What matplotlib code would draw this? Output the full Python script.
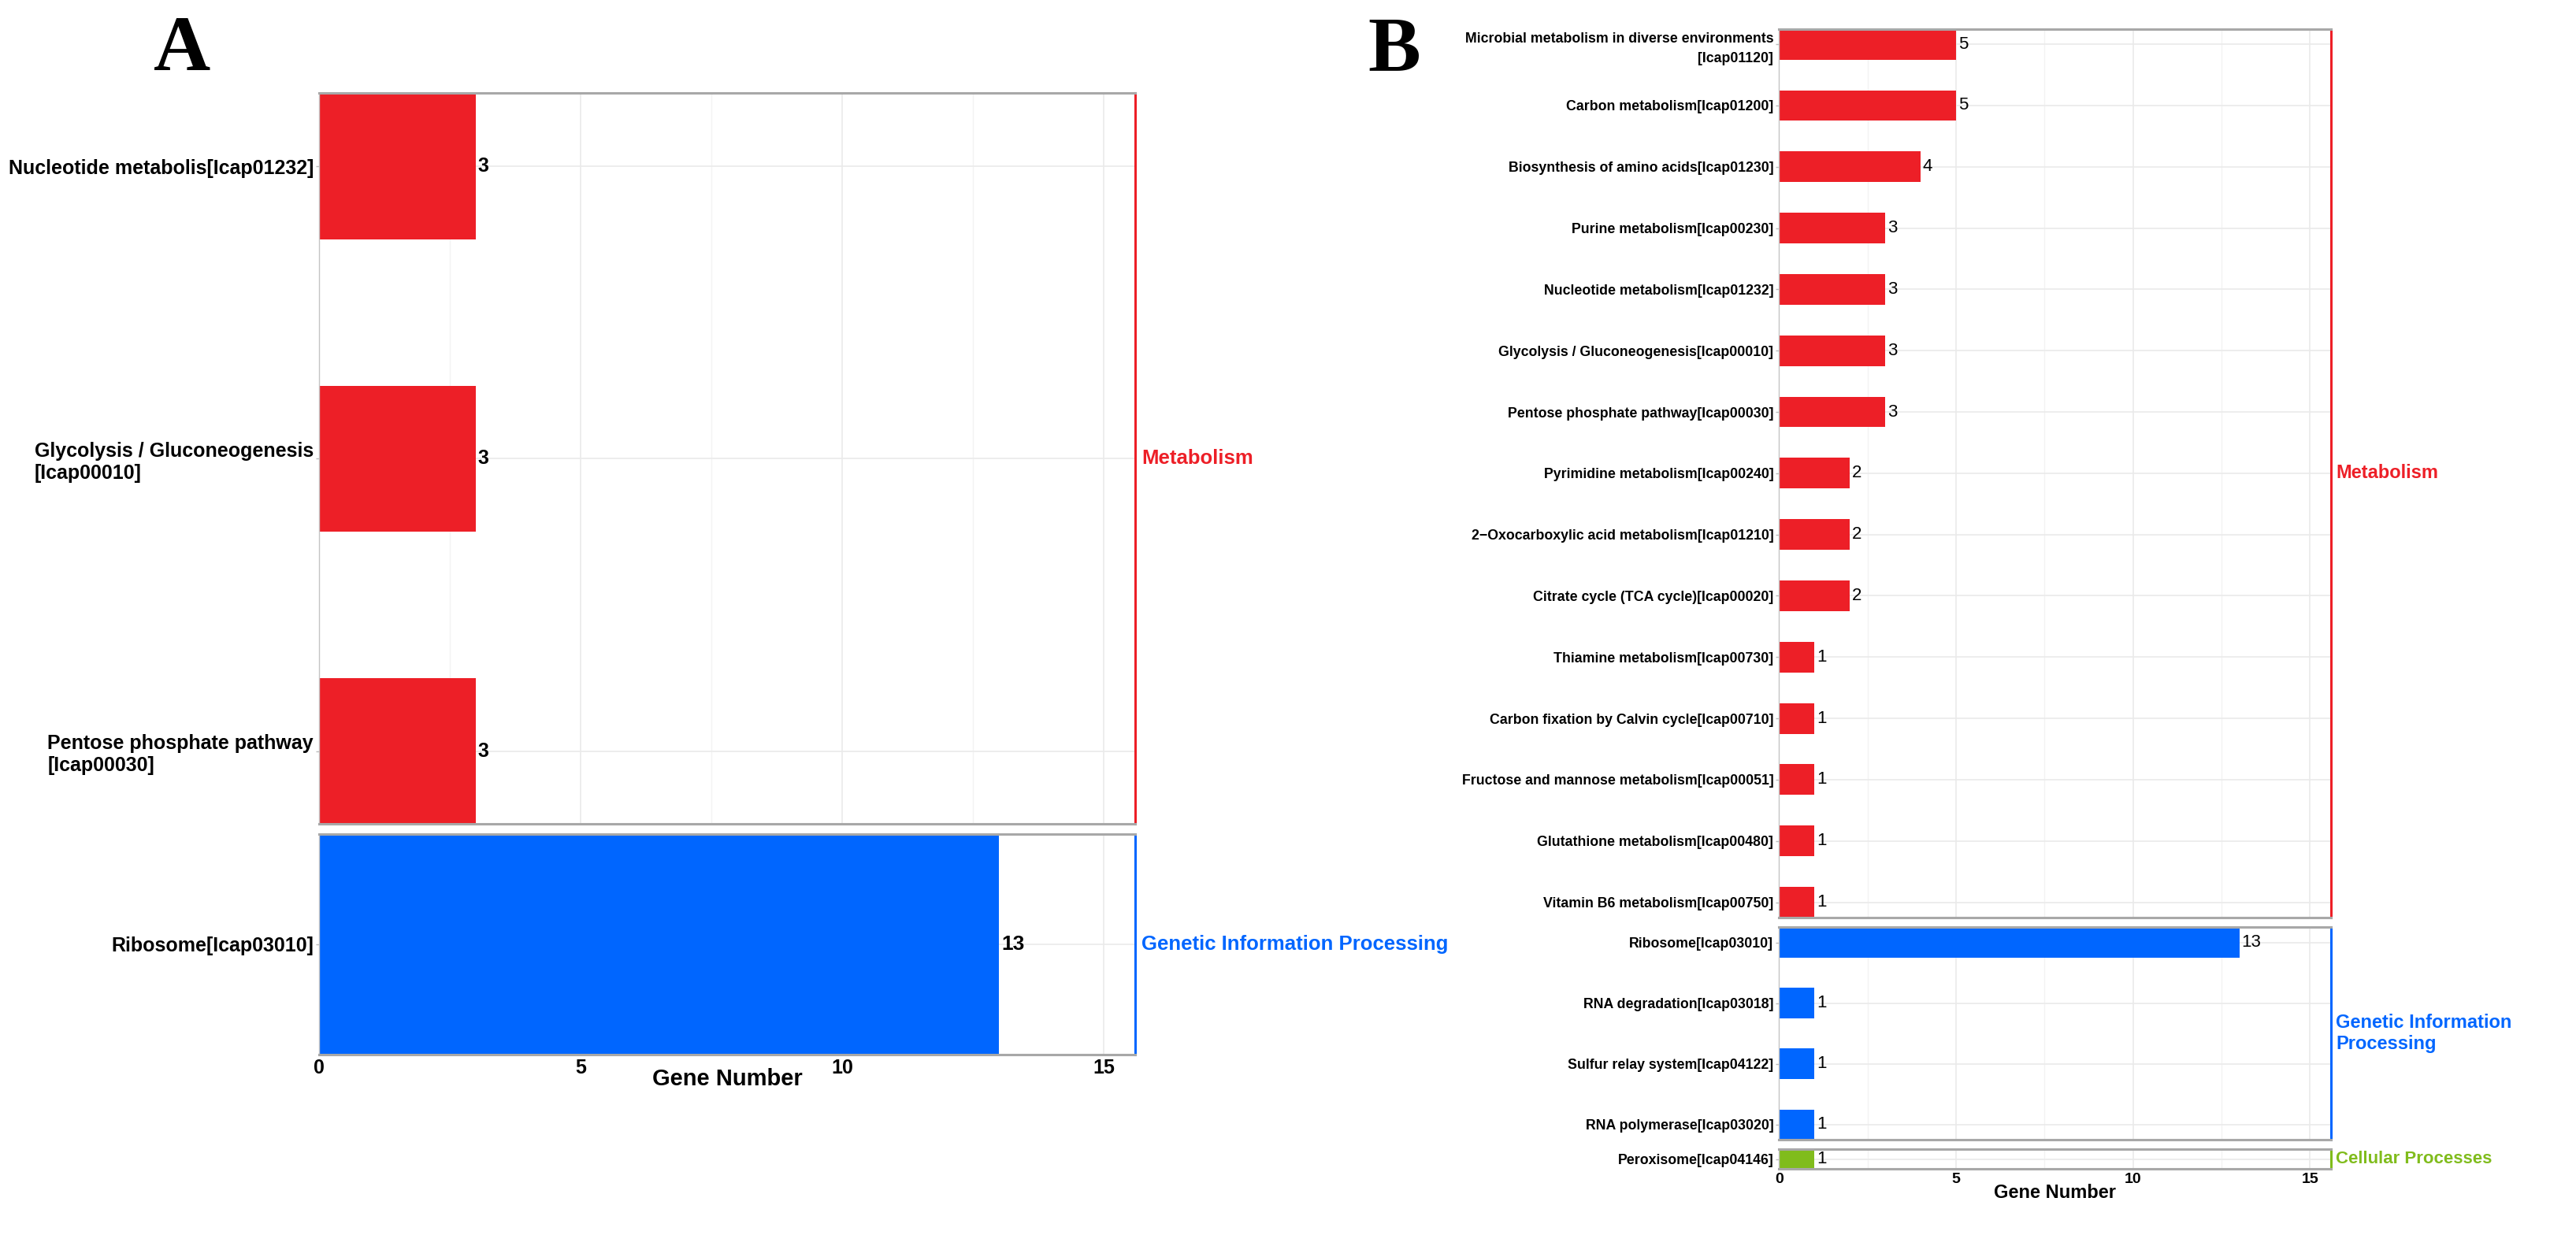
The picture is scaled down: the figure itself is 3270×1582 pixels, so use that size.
import matplotlib
matplotlib.use("Agg")
import matplotlib.pyplot as plt
from matplotlib.ticker import MultipleLocator

plt.rcParams['font.family'] = ['Liberation Sans', 'DejaVu Sans']

# ---- data ----
a_met_labels = ["Nucleotide metabolis[Icap01232]",
                "Glycolysis / Gluconeogenesis\n[Icap00010]",
                "Pentose phosphate pathway\n[Icap00030]"]
a_met_values = [3, 3, 3]
a_gip_labels = ["Ribosome[Icap03010]"]
a_gip_values = [13]

b_met_labels = ["Microbial metabolism in diverse environments\n[Icap01120]",
                "Carbon metabolism[Icap01200]",
                "Biosynthesis of amino acids[Icap01230]",
                "Purine metabolism[Icap00230]",
                "Nucleotide metabolism[Icap01232]",
                "Glycolysis / Gluconeogenesis[Icap00010]",
                "Pentose phosphate pathway[Icap00030]",
                "Pyrimidine metabolism[Icap00240]",
                "2\u2212Oxocarboxylic acid metabolism[Icap01210]",
                "Citrate cycle (TCA cycle)[Icap00020]",
                "Thiamine metabolism[Icap00730]",
                "Carbon fixation by Calvin cycle[Icap00710]",
                "Fructose and mannose metabolism[Icap00051]",
                "Glutathione metabolism[Icap00480]",
                "Vitamin B6 metabolism[Icap00750]"]
b_met_values = [5, 5, 4, 3, 3, 3, 3, 2, 2, 2, 1, 1, 1, 1, 1]
b_gip_labels = ["Ribosome[Icap03010]",
                "RNA degradation[Icap03018]",
                "Sulfur relay system[Icap04122]",
                "RNA polymerase[Icap03020]"]
b_gip_values = [13, 1, 1, 1]
b_cp_labels = ["Peroxisome[Icap04146]"]
b_cp_values = [1]

RED = "#ED1F27"
BLUE = "#0066FF"
GREEN = "#80BC1C"
XMAX = 15.6

fig = plt.figure(figsize=(32.7, 15.82), dpi=100)


def facet(rect, labels, values, color, strip, lab_size, val_size, val_bold,
          strip_size, multialign, bottom=False, tick_size=12, lsp=1.2):
    ax = fig.add_axes(rect)
    ys = list(range(1, len(labels) + 1))
    ax.barh(ys, values, height=0.5, color=color, zorder=2)
    ax.set_xlim(0, XMAX)
    ax.set_ylim(len(labels) + 0.25, 0.75)
    ax.set_yticks(ys)
    ax.set_yticklabels(labels, fontsize=lab_size, fontweight='bold')
    for t in ax.get_yticklabels():
        t.set_multialignment(multialign)
        t.set_linespacing(lsp)
    ax.xaxis.set_major_locator(MultipleLocator(5))
    ax.xaxis.set_minor_locator(MultipleLocator(2.5))
    ax.grid(True, which='major', color='#EAEAEA', lw=1.2, zorder=0)
    ax.grid(True, which='minor', axis='x', color='#F3F3F3', lw=1.0, zorder=0)
    ax.tick_params(axis='y', length=3, width=1, color='#BBBBBB', pad=2)
    ax.tick_params(axis='x', which='both', length=0)
    if not bottom:
        ax.set_xticklabels([])
    else:
        ax.tick_params(axis='x', labelsize=tick_size, pad=4)
        for t in ax.get_xticklabels():
            t.set_fontweight('bold')
    for s in ['top', 'bottom']:
        ax.spines[s].set_color('#A8A8A8')
        ax.spines[s].set_linewidth(2.2)
    ax.spines['left'].set_color('#C4C4C4')
    ax.spines['left'].set_linewidth(1.0)
    ax.spines['right'].set_color(color)
    ax.spines['right'].set_linewidth(2.2)
    for y, v in zip(ys, values):
        ax.annotate(str(v), (v, y), xytext=(2, 0), textcoords='offset points',
                    ha='left', va='center', fontsize=val_size,
                    fontweight='bold' if val_bold else 'normal', zorder=3)
    ax.text(1.008, 0.5, strip, transform=ax.transAxes, color=color,
            fontsize=strip_size, fontweight='bold', ha='left', va='center')
    return ax


# ---- panel A ----
facet([0.1238, 0.3385, 0.3169, 0.5866], a_met_labels, a_met_values, RED,
      "Metabolism", 18, 18, True, 18.5, 'left')
axa = facet([0.1238, 0.1537, 0.3169, 0.1770], a_gip_labels, a_gip_values, BLUE,
            "Genetic Information Processing", 18, 19, True, 18.5, 'left',
            bottom=True, tick_size=18)
axa.set_xlabel("Gene Number", fontsize=21, fontweight='bold')
axa.xaxis.set_label_coords(0.5, -0.11)
axa.xaxis.label.set_va('center')

# ---- panel B ----
facet([0.6906, 0.2636, 0.2144, 0.7132], b_met_labels, b_met_values, RED,
      "Metabolism", 12.8, 16, False, 17, 'right', lsp=1.6)
facet([0.6906, 0.0853, 0.2144, 0.1705], b_gip_labels, b_gip_values, BLUE,
      "Genetic Information\nProcessing", 12.8, 16, False, 17, 'right')
axb = facet([0.6906, 0.0620, 0.2144, 0.0155], b_cp_labels, b_cp_values, GREEN,
            "Cellular Processes", 12.8, 16, False, 16, 'right',
            bottom=True, tick_size=14)
axb.set_xlabel("Gene Number", fontsize=17, fontweight='bold')
axb.xaxis.set_label_coords(0.5, -1.25)
axb.xaxis.label.set_va('center')

# panel letters
fig.text(113 / 1600, 1 - 32 / 774, "A", family='Liberation Serif',
         fontweight='bold', fontsize=72, ha='center', va='center')
fig.text(866 / 1600, 1 - 32 / 774, "B", family='Liberation Serif',
         fontweight='bold', fontsize=72, ha='center', va='center')

fig.savefig("out.png", dpi=100, facecolor='white')
